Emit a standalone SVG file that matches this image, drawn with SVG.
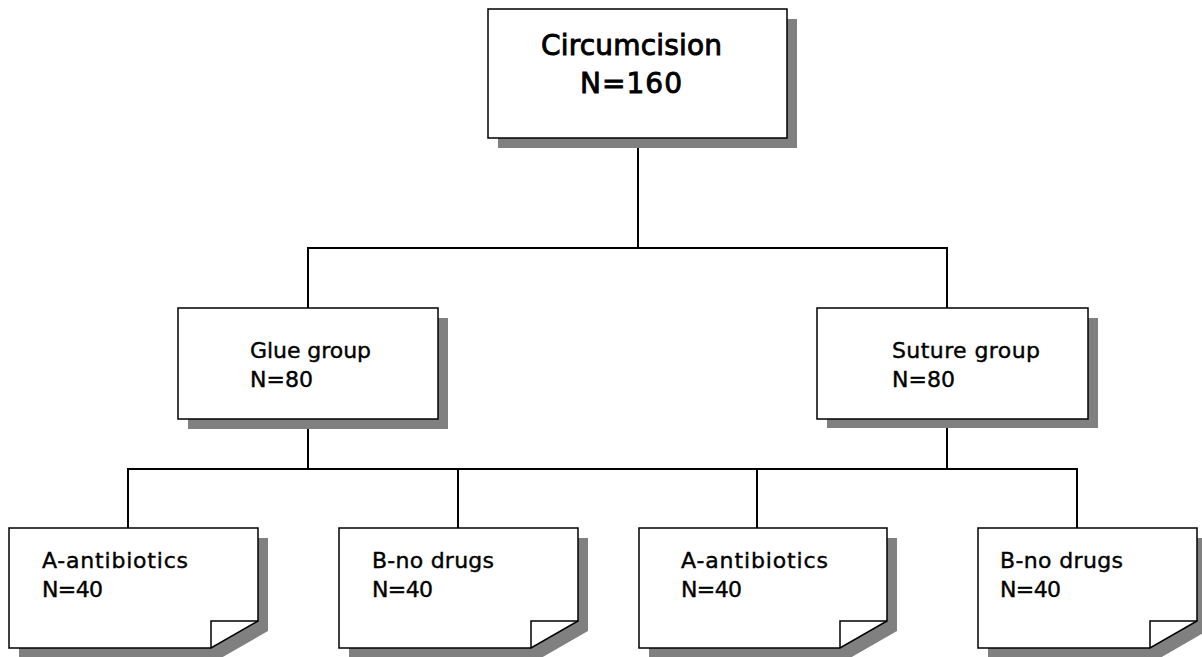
<svg xmlns="http://www.w3.org/2000/svg" width="1202" height="657" viewBox="0 0 1202 657">
<style>
.bg{fill:#ffffff}
.box{fill:#ffffff;stroke:#000000;stroke-width:1.5}
.shadow{fill:#808080;stroke:none}
.fold{fill:none;stroke:#000000;stroke-width:1.5;stroke-linejoin:miter}
.conn{fill:none;stroke:#000000;stroke-width:2;stroke-linecap:square}
.t{font-family:"DejaVu Sans","Liberation Sans",sans-serif;fill:#000000;stroke:#000000;stroke-width:0.4}
.big{font-size:28px;stroke-width:0.9}
.mid{font-size:22px}
.small{font-size:22px}
</style>
<rect class="bg" x="0" y="0" width="1202" height="657"/>

<g id="connectors">
<path class="conn" d="M638,138 V248"/>
<path class="conn" d="M308,308 V248 H947 V308"/>
<path class="conn" d="M308,419 V469"/>
<path class="conn" d="M947,419 V469"/>
<path class="conn" d="M128,528 V469 H1077 V528"/>
<path class="conn" d="M458,469 V528"/>
<path class="conn" d="M757,469 V528"/>
</g>

<g id="node-circumcision">
<rect class="shadow" x="498" y="19" width="299" height="129"/>
<rect class="box" x="488" y="9" width="299" height="129"/>
<text class="t big" x="631.5" y="55" text-anchor="middle" textLength="181">Circumcision</text>
<text class="t big" x="631" y="93" text-anchor="middle" textLength="102">N=160</text>
</g>

<g id="node-glue">
<rect class="shadow" x="188" y="318" width="260" height="111"/>
<rect class="box" x="178" y="308" width="260" height="111"/>
<text class="t mid" x="250" y="358" textLength="121">Glue group</text>
<text class="t mid" x="250" y="387" textLength="63">N=80</text>
</g>

<g id="node-suture">
<rect class="shadow" x="827" y="318" width="271" height="110"/>
<rect class="box" x="817" y="308" width="271" height="111"/>
<text class="t mid" x="892" y="358" textLength="148">Suture group</text>
<text class="t mid" x="892" y="387" textLength="63">N=80</text>
</g>

<g id="node-glue-a">
<path class="shadow" d="M19,538 H268 V631 L221,658 H19 Z"/>
<path class="box" d="M9,528 H258 V621 L211,648 H9 Z"/>
<path class="fold" d="M211,648 V621 H258"/>
<text class="t small" x="42" y="568" textLength="146">A-antibiotics</text>
<text class="t small" x="42" y="597" textLength="61">N=40</text>
</g>

<g id="node-glue-b">
<path class="shadow" d="M349,538 H588 V631 L541,658 H349 Z"/>
<path class="box" d="M339,528 H578 V621 L531,648 H339 Z"/>
<path class="fold" d="M531,648 V621 H578"/>
<text class="t small" x="372" y="568" textLength="122">B-no drugs</text>
<text class="t small" x="372" y="597" textLength="61">N=40</text>
</g>

<g id="node-suture-a">
<path class="shadow" d="M649,538 H897 V631 L850,658 H649 Z"/>
<path class="box" d="M639,528 H887 V621 L840,648 H639 Z"/>
<path class="fold" d="M840,648 V621 H887"/>
<text class="t small" x="681" y="568" textLength="147">A-antibiotics</text>
<text class="t small" x="681" y="597" textLength="61">N=40</text>
</g>

<g id="node-suture-b">
<path class="shadow" d="M988,538 H1207 V631 L1160,658 H988 Z"/>
<path class="box" d="M978,528 H1197 V621 L1150,648 H978 Z"/>
<path class="fold" d="M1150,648 V621 H1197"/>
<text class="t small" x="1000" y="568" textLength="123">B-no drugs</text>
<text class="t small" x="1000" y="597" textLength="61">N=40</text>
</g>
</svg>
